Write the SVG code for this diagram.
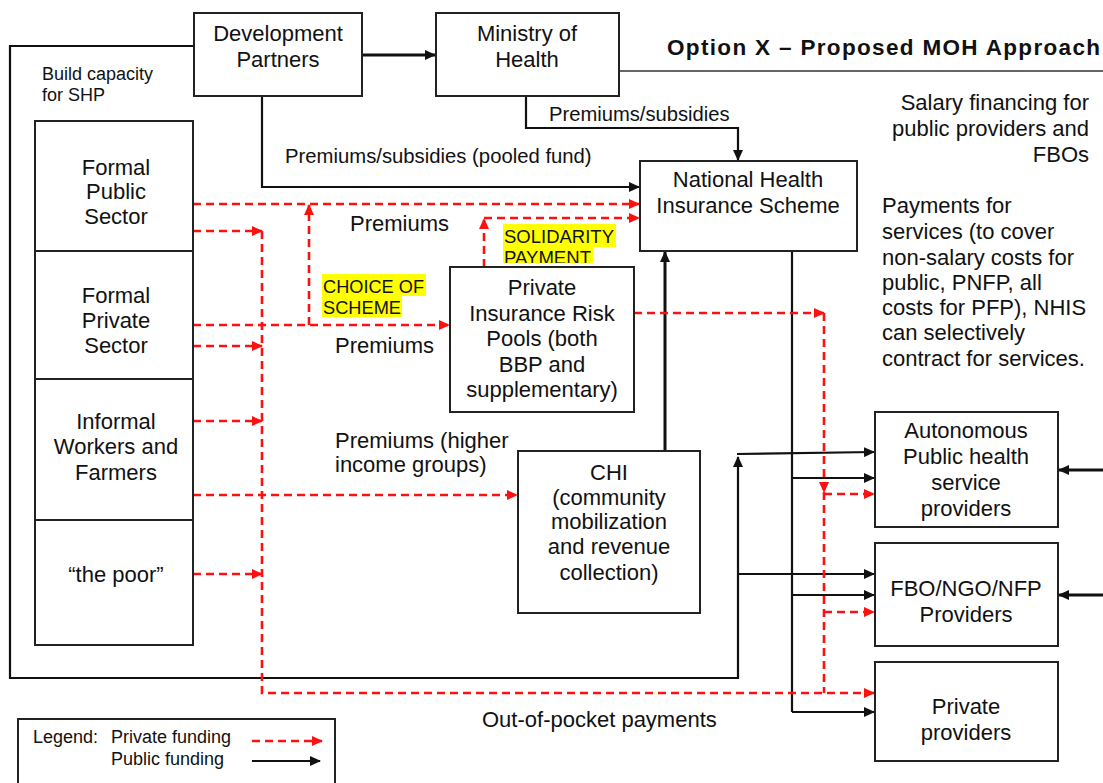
<svg xmlns="http://www.w3.org/2000/svg" width="1103" height="783" viewBox="0 0 1103 783">
<style>
text{font-family:"Liberation Sans",Arial,sans-serif;fill:#111}
.n{font-size:22px;text-anchor:middle}
.l{font-size:22px}
.box{fill:#fff;stroke:#222;stroke-width:2}
.blk{fill:none;stroke:#111;stroke-width:2.2}
.thk{fill:none;stroke:#111;stroke-width:3}
.red{fill:none;stroke:#ff1010;stroke-width:2.6;stroke-dasharray:8 5}
.hl{fill:#ffff00}
.cap{font-size:18px}
</style>
<defs>
<marker id="ab" markerUnits="userSpaceOnUse" markerWidth="11" markerHeight="10" refX="10" refY="5" orient="auto"><path d="M0,0 L11,5 L0,10 z" fill="#111"/></marker>
<marker id="ar" markerUnits="userSpaceOnUse" markerWidth="11" markerHeight="10" refX="10" refY="5" orient="auto"><path d="M0,0 L11,5 L0,10 z" fill="#ff1010"/></marker>
<clipPath id="solclip"><rect x="490" y="215" width="140" height="48"/></clipPath>
</defs>
<rect width="1103" height="783" fill="#fff"/>

<!-- frame and title -->
<g id="frame">
<polyline class="blk" points="194,46 10,46 10,678 738,678 738,457" marker-end="url(#ab)"/>
<line x1="619" y1="71" x2="1103" y2="71" stroke="#333" stroke-width="1.5"/>
<text x="667" y="55" font-size="22.5px" font-weight="bold" textLength="433" lengthAdjust="spacing">Option X – Proposed MOH Approach</text>
<text class="cap" x="42" y="80">Build capacity</text>
<text class="cap" x="42" y="101">for SHP</text>
</g>

<!-- labels -->
<g id="labels">
<text x="285" y="163" font-size="20.3px">Premiums/subsidies (pooled fund)</text>
<text x="549" y="121" font-size="20.2px">Premiums/subsidies</text>
<text class="l" x="350" y="231">Premiums</text>
<text class="l" x="335" y="353">Premiums</text>
<text class="l" x="335" y="448">Premiums (higher</text>
<text class="l" x="335" y="472">income groups)</text>
<text class="l" x="482" y="727">Out-of-pocket payments</text>
<rect class="hl" x="322" y="274" width="104" height="22"/>
<rect class="hl" x="322" y="296" width="80" height="21"/>
<text class="cap" x="323" y="293" textLength="101" lengthAdjust="spacingAndGlyphs">CHOICE OF</text>
<text class="cap" x="323" y="314" textLength="78" lengthAdjust="spacingAndGlyphs">SCHEME</text>
<g clip-path="url(#solclip)">
<rect class="hl" x="503" y="224" width="113" height="23"/>
<rect class="hl" x="503" y="247" width="90" height="20"/>
<text class="cap" x="504" y="243" textLength="110" lengthAdjust="spacingAndGlyphs">SOLIDARITY</text>
<text class="cap" x="504" y="264" textLength="87" lengthAdjust="spacingAndGlyphs">PAYMENT</text>
</g>
<text class="l" x="1089" y="110" text-anchor="end">Salary financing for</text>
<text class="l" x="1089" y="136" text-anchor="end">public providers and</text>
<text class="l" x="1089" y="162" text-anchor="end">FBOs</text>
<text class="l" x="882" y="213">Payments for</text>
<text class="l" x="882" y="239">services (to cover</text>
<text class="l" x="882" y="265">non-salary costs for</text>
<text class="l" x="882" y="290">public, PNFP, all</text>
<text class="l" x="882" y="315">costs for PFP), NHIS</text>
<text class="l" x="882" y="340">can selectively</text>
<text class="l" x="882" y="366">contract for services.</text>
</g>

<!-- connectors -->
<g id="connectors">
<line class="thk" x1="362" y1="55" x2="435" y2="55" marker-end="url(#ab)"/>
<polyline class="blk" points="262,96 262,187 639,187" marker-end="url(#ab)"/>
<polyline class="blk" points="526,96 526,128 738,128 738,160" marker-end="url(#ab)"/>
<line class="thk" x1="665" y1="451" x2="665" y2="252" marker-end="url(#ab)"/>
<line class="blk" x1="792" y1="251" x2="792" y2="712"/>
<line class="blk" x1="792" y1="478" x2="874" y2="478" marker-end="url(#ab)"/>
<line class="blk" x1="792" y1="595" x2="874" y2="595" marker-end="url(#ab)"/>
<line class="blk" x1="792" y1="712" x2="874" y2="712" marker-end="url(#ab)"/>
<line class="blk" x1="737" y1="454" x2="874" y2="452" marker-end="url(#ab)"/>
<line class="blk" x1="737" y1="574" x2="874" y2="574" marker-end="url(#ab)"/>
<line class="thk" x1="1103" y1="470" x2="1059" y2="470" marker-end="url(#ab)"/>
<line class="thk" x1="1103" y1="595" x2="1059" y2="595" marker-end="url(#ab)"/>

<line class="red" x1="193" y1="204" x2="639" y2="204" marker-end="url(#ar)"/>
<line class="red" x1="309" y1="325" x2="309" y2="205" marker-end="url(#ar)"/>
<line class="red" x1="193" y1="325" x2="449" y2="325" marker-end="url(#ar)"/>
<polyline class="red" points="484,267 484,219" marker-end="url(#ar)"/>
<line class="red" x1="484" y1="218" x2="639" y2="218" marker-end="url(#ar)"/>
<line class="red" x1="193" y1="231" x2="262" y2="231" marker-end="url(#ar)"/>
<line class="red" x1="193" y1="346" x2="262" y2="346" marker-end="url(#ar)"/>
<line class="red" x1="193" y1="421" x2="262" y2="421" marker-end="url(#ar)"/>
<line class="red" x1="193" y1="574" x2="262" y2="574" marker-end="url(#ar)"/>
<line class="red" x1="193" y1="495" x2="517" y2="495" marker-end="url(#ar)"/>
<polyline class="red" points="262,231 262,693 874,693" marker-end="url(#ar)"/>
<line class="red" x1="634" y1="313" x2="824" y2="313" marker-end="url(#ar)"/>
<line class="red" x1="824" y1="313" x2="824" y2="492" marker-end="url(#ar)"/>
<line class="red" x1="824" y1="492" x2="824" y2="693"/>
<line class="red" x1="824" y1="494" x2="874" y2="494" marker-end="url(#ar)"/>
<line class="red" x1="824" y1="612" x2="874" y2="612" marker-end="url(#ar)"/>
</g>

<!-- nodes -->
<g id="dev-partners">
<rect class="box" x="194" y="13" width="168" height="83"/>
<text class="n" x="278" y="41">Development</text>
<text class="n" x="278" y="67">Partners</text>
</g>
<g id="moh">
<rect class="box" x="436" y="13" width="183" height="83"/>
<text class="n" x="527" y="41">Ministry of</text>
<text class="n" x="527" y="67">Health</text>
</g>
<g id="nhis">
<rect class="box" x="640" y="161" width="217" height="90"/>
<text class="n" x="748" y="187">National Health</text>
<text class="n" x="748" y="213">Insurance Scheme</text>
</g>
<g id="pirp">
<rect class="box" x="450" y="267" width="184" height="145"/>
<text class="n" x="542" y="295">Private</text>
<text class="n" x="542" y="321">Insurance Risk</text>
<text class="n" x="542" y="346">Pools (both</text>
<text class="n" x="542" y="372">BBP and</text>
<text class="n" x="542" y="397">supplementary)</text>
</g>
<g id="chi">
<rect class="box" x="518" y="451" width="182" height="162"/>
<text class="n" x="609" y="480">CHI</text>
<text class="n" x="609" y="505">(community</text>
<text class="n" x="609" y="529">mobilization</text>
<text class="n" x="609" y="554">and revenue</text>
<text class="n" x="609" y="580">collection)</text>
</g>
<g id="formal-public">
<rect class="box" x="35" y="121" width="158" height="130"/>
<text class="n" x="116" y="175">Formal</text>
<text class="n" x="116" y="199">Public</text>
<text class="n" x="116" y="224">Sector</text>
</g>
<g id="formal-private">
<rect class="box" x="35" y="251" width="158" height="128"/>
<text class="n" x="116" y="303">Formal</text>
<text class="n" x="116" y="328">Private</text>
<text class="n" x="116" y="353">Sector</text>
</g>
<g id="informal">
<rect class="box" x="35" y="379" width="158" height="141"/>
<text class="n" x="116" y="429">Informal</text>
<text class="n" x="116" y="454">Workers and</text>
<text class="n" x="116" y="480">Farmers</text>
</g>
<g id="poor">
<rect class="box" x="35" y="520" width="158" height="125"/>
<text class="n" x="116" y="582">“the poor”</text>
</g>
<g id="autonomous">
<rect class="box" x="875" y="412" width="183" height="115"/>
<text class="n" x="966" y="438">Autonomous</text>
<text class="n" x="966" y="464">Public health</text>
<text class="n" x="966" y="490">service</text>
<text class="n" x="966" y="516">providers</text>
</g>
<g id="fbo">
<rect class="box" x="875" y="543" width="183" height="103"/>
<text class="n" x="966" y="596">FBO/NGO/NFP</text>
<text class="n" x="966" y="622">Providers</text>
</g>
<g id="private-providers">
<rect class="box" x="875" y="662" width="183" height="99"/>
<text class="n" x="966" y="714">Private</text>
<text class="n" x="966" y="740">providers</text>
</g>
<g id="legend">
<rect class="box" x="18" y="719" width="317" height="80"/>
<text class="cap" x="33" y="743">Legend:</text>
<text class="cap" x="111" y="743">Private funding</text>
<text class="cap" x="111" y="765">Public funding</text>
<line class="red" x1="252" y1="741" x2="322" y2="741" marker-end="url(#ar)"/>
<line class="blk" x1="252" y1="761" x2="320" y2="761" stroke-width="2.5" marker-end="url(#ab)"/>
</g>
</svg>
